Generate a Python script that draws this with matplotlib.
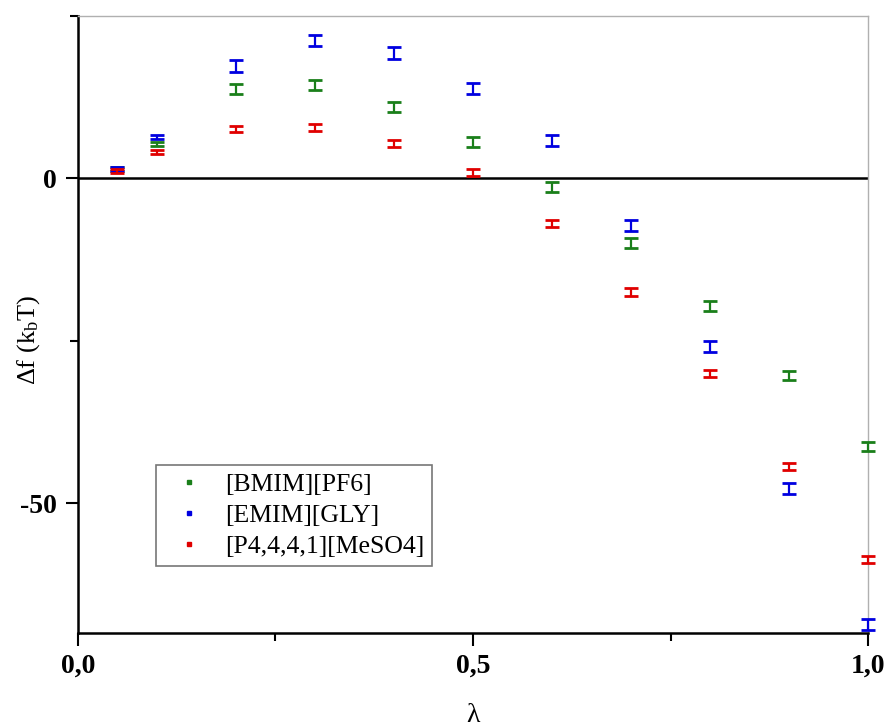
import matplotlib
matplotlib.use('Agg')
import matplotlib.pyplot as plt
from matplotlib.lines import Line2D
from matplotlib.ticker import FixedLocator, FuncFormatter

plt.rcParams['font.family'] = ['Liberation Serif', 'DejaVu Serif']
plt.rcParams['mathtext.fontset'] = 'custom'
plt.rcParams['mathtext.rm'] = 'Liberation Serif'
plt.rcParams['mathtext.it'] = 'Liberation Serif:italic'

# lambda values
lam = [0.05, 0.1, 0.2, 0.3, 0.4, 0.5, 0.6, 0.7, 0.8, 0.9, 1.0]

# delta f (kbT) per liquid
bmim = [1.4, 5.3, 13.8, 14.4, 11.0, 5.6, -1.3, -9.9, -19.7, -30.4, -41.3]
emim = [1.5, 6.3, 17.3, 21.3, 19.3, 13.9, 5.9, -7.3, -25.9, -47.7, -68.7]
p4 = [1.2, 4.1, 7.6, 7.8, 5.4, 0.9, -7.0, -17.5, -30.1, -44.3, -58.7]

bmim_err = [0.3, 0.3, 0.75, 0.75, 0.75, 0.7, 0.75, 0.75, 0.75, 0.7, 0.75]
emim_err = [0.3, 0.3, 0.85, 0.85, 0.85, 0.85, 0.85, 0.85, 0.85, 0.85, 0.85]
p4_err = [0.3, 0.3, 0.5, 0.55, 0.55, 0.6, 0.55, 0.55, 0.55, 0.55, 0.55]

labels = ['[BMIM][PF6]', '[EMIM][GLY]', '[P4,4,4,1][MeSO4]']
colors = ['#1a7f1a', '#0000e0', '#e00000']

fig = plt.figure(figsize=(8.88, 7.27), dpi=100)
ax = fig.add_axes([0.0878, 0.1293, 0.8897, 0.8487])

for y, e, c in zip([bmim, emim, p4], [bmim_err, emim_err, p4_err], colors):
    ax.errorbar(lam, y, yerr=e, fmt='none', ecolor=c, elinewidth=1.6,
                capsize=4.8, capthick=2.0, clip_on=False, zorder=3)

ax.axhline(0, color='black', lw=1.8, zorder=2)

ax.set_xlim(0, 1.0)
ax.set_ylim(-70, 25)

ax.xaxis.set_major_locator(FixedLocator([0, 0.5, 1.0]))
ax.xaxis.set_minor_locator(FixedLocator([0.25, 0.75]))
ax.yaxis.set_major_locator(FixedLocator([-50, 0]))
ax.yaxis.set_minor_locator(FixedLocator([-25, 25]))
ax.xaxis.set_major_formatter(FuncFormatter(lambda v, p: ('%.1f' % v).replace('.', ',')))
ax.yaxis.set_major_formatter(FuncFormatter(lambda v, p: '%d' % v))

ax.tick_params(which='major', direction='out', length=9, width=1.5, labelsize=20, pad=6)
ax.tick_params(which='minor', direction='out', length=6, width=1.5)
for lab in ax.get_xticklabels() + ax.get_yticklabels():
    lab.set_fontweight('bold')

for s in ['left', 'bottom']:
    ax.spines[s].set_linewidth(1.8)
    ax.spines[s].set_color('black')
for s in ['top', 'right']:
    ax.spines[s].set_linewidth(1.0)
    ax.spines[s].set_color('#b0b0b0')

ax.set_xlabel('λ', fontsize=20)
ax.xaxis.set_label_coords(0.5, -0.133)
ax.xaxis.label.set_va('center')
ax.set_ylabel(r'Δf (k$_\mathrm{b}$T)', fontsize=19)
ax.yaxis.set_label_coords(-0.062, 0.475)
ax.yaxis.label.set_va('center')

handles = [Line2D([], [], ls='none', marker='s', ms=2.5, color=c) for c in colors]
leg = ax.legend(handles, labels, loc='lower left', bbox_to_anchor=(0.0987, 0.1086),
                borderaxespad=0, fontsize=18.5, frameon=True, fancybox=False,
                handlelength=1.95, handletextpad=0.45, borderpad=0.3,
                labelspacing=0.32, markerfirst=True)
leg.get_frame().set_edgecolor('#555555')
leg.get_frame().set_linewidth(1.2)
for t in leg.get_texts():
    t.set_ha('center')

fig.savefig('out.png', dpi=100)
